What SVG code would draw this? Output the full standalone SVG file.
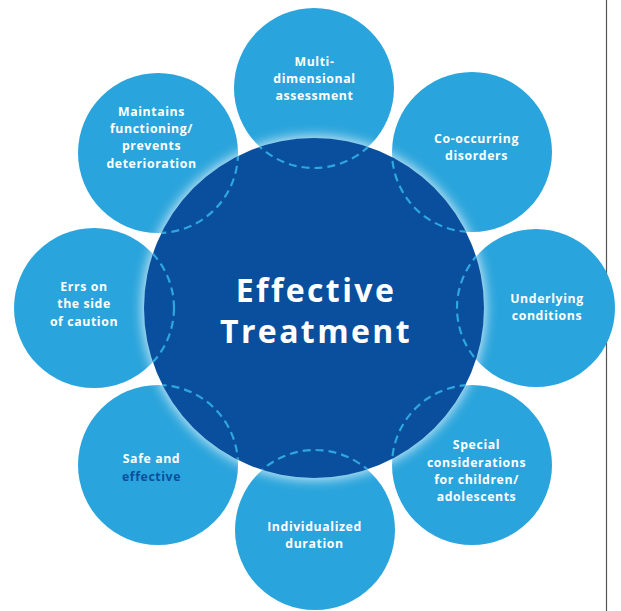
<svg xmlns="http://www.w3.org/2000/svg" width="621" height="611" viewBox="0 0 621 611">
<style>
.sat{fill:#2aa4dc}
.lbl{font-family:"Open Sans","Liberation Sans",sans-serif;font-weight:700;font-size:12.3px;letter-spacing:0.6px;fill:#ffffff;text-anchor:middle}
.dk{fill:#0a4f9d}
.ctr{font-family:"Open Sans","Liberation Sans",sans-serif;font-weight:700;font-size:32px;letter-spacing:2.4px;fill:#ffffff;text-anchor:middle}
.dash{fill:none;stroke:#2fa6de;stroke-width:2.2;stroke-dasharray:8 5}
</style>
<defs>
<filter id="glow" x="-20%" y="-20%" width="140%" height="140%"><feGaussianBlur stdDeviation="6"/></filter>
<clipPath id="inner"><circle cx="314" cy="308" r="170"/></clipPath>
</defs>
<line x1="606.5" y1="0" x2="606.5" y2="611" stroke="#555555" stroke-width="1.2"/>
<g id="node-multi"><circle class="sat" cx="314" cy="88" r="80"/>
<text class="lbl"><tspan x="314.5" y="66">Multi-</tspan><tspan x="314.5" y="83">dimensional</tspan><tspan x="314.5" y="100">assessment</tspan></text></g>
<g id="node-cooccurring"><circle class="sat" cx="472" cy="152" r="80"/>
<text class="lbl"><tspan x="476.5" y="143">Co-occurring</tspan><tspan x="476.5" y="160">disorders</tspan></text></g>
<g id="node-underlying"><circle class="sat" cx="536" cy="308" r="79"/>
<text class="lbl"><tspan x="547" y="303">Underlying</tspan><tspan x="547" y="320">conditions</tspan></text></g>
<g id="node-special"><circle class="sat" cx="472" cy="465" r="80"/>
<text class="lbl"><tspan x="476.5" y="449">Special</tspan><tspan x="476.5" y="467">considerations</tspan><tspan x="476.5" y="484">for children/</tspan><tspan x="476.5" y="501">adolescents</tspan></text></g>
<g id="node-duration"><circle class="sat" cx="315" cy="530" r="80"/>
<text class="lbl"><tspan x="314.5" y="531">Individualized</tspan><tspan x="314.5" y="548">duration</tspan></text></g>
<g id="node-safe"><circle class="sat" cx="158" cy="465" r="80"/>
<text class="lbl"><tspan x="151.5" y="463">Safe and</tspan><tspan x="151.5" y="481" fill="#0a4f9d">effective</tspan></text></g>
<g id="node-errs"><circle class="sat" cx="94" cy="308" r="80"/>
<text class="lbl"><tspan x="84" y="291">Errs on</tspan><tspan x="84" y="308">the side</tspan><tspan x="84" y="326">of caution</tspan></text></g>
<g id="node-maintains"><circle class="sat" cx="158" cy="153" r="80"/>
<text class="lbl"><tspan x="151.5" y="116">Maintains</tspan><tspan x="151.5" y="133">functioning/</tspan><tspan x="151.5" y="150">prevents</tspan><tspan x="151.5" y="168">deterioration</tspan></text></g>
<g id="node-center">
<circle cx="314" cy="308" r="172" fill="#ffffff" opacity="0.75" filter="url(#glow)"/>
<circle class="dk" cx="314" cy="308" r="170"/>
<g id="connectors" clip-path="url(#inner)">
<circle class="dash" cx="314" cy="88" r="80"/>
<circle class="dash" cx="472" cy="152" r="80"/>
<circle class="dash" cx="536" cy="308" r="79"/>
<circle class="dash" cx="472" cy="465" r="80"/>
<circle class="dash" cx="315" cy="530" r="80"/>
<circle class="dash" cx="158" cy="465" r="80"/>
<circle class="dash" cx="94" cy="308" r="80"/>
<circle class="dash" cx="158" cy="153" r="80"/>
</g>
<text class="ctr"><tspan x="316" y="302">Effective</tspan><tspan x="316" y="343">Treatment</tspan></text>
</g>
</svg>
